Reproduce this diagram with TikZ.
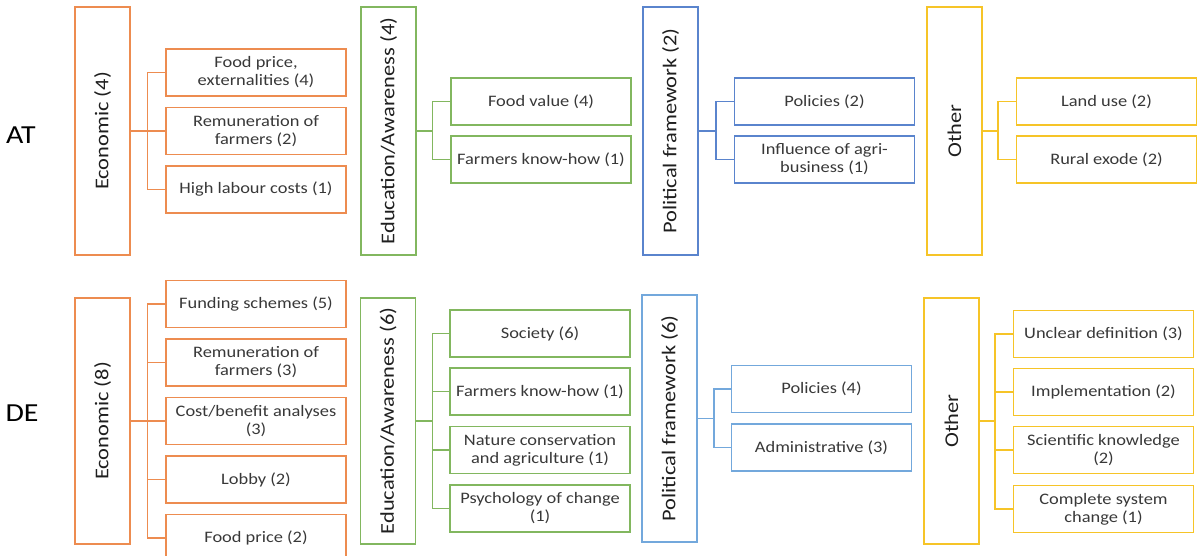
\documentclass[tikz,border=0pt]{standalone}
\usepackage{fontspec}
\setmainfont{Carlito}[FakeStretch=1.15]
\usepackage{graphicx}
\usetikzlibrary{positioning}
\definecolor{cEco} {RGB}{237,140,80}
\definecolor{cEdu} {RGB}{130,183,95}
\definecolor{cPolA}{RGB}{90,132,205}
\definecolor{cPolB}{RGB}{115,168,220}
\definecolor{cOth} {RGB}{246,196,40}
\tikzset{
  country/.style={font=\fontsize{26}{30}\selectfont},
  cat/.style={draw,line width=1.1pt,minimum width=55pt,inner sep=0pt,
              text=black!88,font=\fontsize{19.5}{24}\selectfont},
  catA/.style={cat,minimum height=248pt},
  catB/.style={cat,minimum height=246pt},
  sub/.style={draw,line width=1.1pt,minimum width=180pt,minimum height=47pt,
              inner sep=1pt,align=center,text=black!78,font=\fontsize{16}{18}\selectfont},
  link/.style={line width=1.1pt},
}

\begin{document}
\begin{tikzpicture}[x=1pt,y=-1pt]
  \useasboundingbox (0,0) rectangle (1197,555);
  \clip (0,0) rectangle (1197,555);

  % country labels
  \node[country] (at) at (21,135) {AT};
  \node[country] (de) at (22,413) {DE};

  % AT row
  \node[catA,draw=cEco] (atEco) at (102.5,131) {\rotatebox{90}{Economic (4)}};
  \foreach \i/\y/\txt in {1/72.5/{Food price,\\externalities (4)},
                          2/131/{Remuneration of\\farmers (2)},
                          3/189.5/{High labour costs (1)}}{
    \node[sub,draw=cEco] (atEco\i) at (256,\y) {\txt};
    \draw[link,cEco] (atEco\i.west) -- ++(-18,0) |- (atEco.east);
  }

  \node[catA,draw=cEdu] (atEdu) at (388.5,131) {\rotatebox{90}{Education/Awareness (4)}};
  \foreach \i/\y/\txt in {1/101.5/{Food value (4)},2/159.5/{Farmers know-how (1)}}{
    \node[sub,draw=cEdu] (atEdu\i) at (541,\y) {\txt};
    \draw[link,cEdu] (atEdu\i.west) -- ++(-18,0) |- (atEdu.east);
  }

  \node[catA,draw=cPolA] (atPol) at (670.5,131) {\rotatebox{90}{Political framework (2)}};
  \foreach \i/\y/\txt in {1/101.5/{Policies (2)},2/159.5/{Influence of agri-\\business (1)}}{
    \node[sub,draw=cPolA] (atPol\i) at (824.5,\y) {\txt};
    \draw[link,cPolA] (atPol\i.west) -- ++(-18,0) |- (atPol.east);
  }

  \node[catA,draw=cOth] (atOth) at (954.5,131) {\rotatebox{90}{Other}};
  \foreach \i/\y/\txt in {1/101.5/{Land use (2)},2/159.5/{Rural exode (2)}}{
    \node[sub,draw=cOth] (atOth\i) at (1106.5,\y) {\txt};
    \draw[link,cOth] (atOth\i.west) -- ++(-18,0) |- (atOth.east);
  }

  % DE row
  \node[catB,draw=cEco] (deEco) at (102.5,421) {\rotatebox{90}{Economic (8)}};
  \foreach \i/\y/\txt in {1/304/{Funding schemes (5)},
                          2/362.5/{Remuneration of\\farmers (3)},
                          3/421/{Cost/benefit analyses\\(3)},
                          4/479.5/{Lobby (2)},
                          5/538/{Food price (2)}}{
    \node[sub,draw=cEco] (deEco\i) at (256,\y) {\txt};
    \draw[link,cEco] (deEco\i.west) -- ++(-18,0) |- (deEco.east);
  }

  \node[catB,draw=cEdu] (deEdu) at (388,421) {\rotatebox{90}{Education/Awareness (6)}};
  \foreach \i/\y/\txt in {1/333.5/{Society (6)},
                          2/391.5/{Farmers know-how (1)},
                          3/450/{Nature conservation\\and agriculture (1)},
                          4/508.5/{Psychology of change\\(1)}}{
    \node[sub,draw=cEdu] (deEdu\i) at (540,\y) {\txt};
    \draw[link,cEdu] (deEdu\i.west) -- ++(-17,0) |- (deEdu.east);
  }

  \node[cat,minimum height=247pt,draw=cPolB] (dePol) at (669.5,418.5) {\rotatebox{90}{Political framework (6)}};
  \foreach \i/\y/\txt in {1/389/{Policies (4)},2/447.5/{Administrative (3)}}{
    \node[sub,draw=cPolB] (dePol\i) at (821.5,\y) {\txt};
    \draw[link,cPolB] (dePol\i.west) -- ++(-17,0) |- (dePol.east);
  }

  \node[catB,draw=cOth] (deOth) at (951.5,421) {\rotatebox{90}{Other}};
  \foreach \i/\y/\txt in {1/334/{Unclear definition (3)},
                          2/392/{Implementation (2)},
                          3/450/{Scientific knowledge\\(2)},
                          4/509/{Complete system\\change (1)}}{
    \node[sub,draw=cOth] (deOth\i) at (1103.5,\y) {\txt};
    \draw[link,cOth] (deOth\i.west) -- ++(-18,0) |- (deOth.east);
  }
\end{tikzpicture}
\end{document}
